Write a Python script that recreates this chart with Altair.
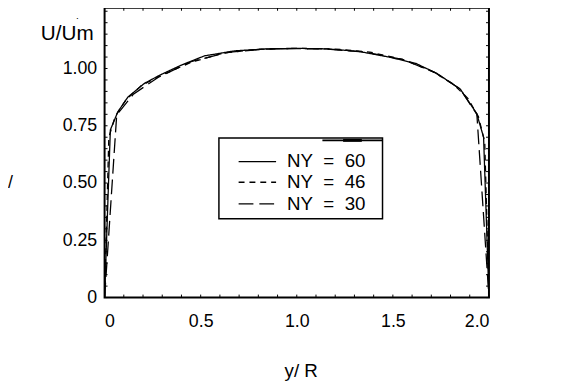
import altair as alt
import pandas as pd

# ---- data ----
ny60_x = [0, 0.030, 0.069, 0.121, 0.207, 0.285, 0.394, 0.519, 0.676, 0.85, 1.0, 1.15, 1.32, 1.48, 1.62, 1.73, 1.85, 1.936, 1.972, 2.0]
ny60_y = [0, 0.732, 0.811, 0.875, 0.935, 0.970, 1.013, 1.055, 1.077, 1.086, 1.088, 1.086, 1.075, 1.050, 1.022, 0.978, 0.911, 0.804, 0.700, 0]

ny46_x = [0, 0.022, 0.055, 0.11, 0.19, 0.30, 0.45, 0.62, 0.80, 1.0, 1.20, 1.38, 1.55, 1.70, 1.81, 1.89, 1.945, 1.978, 2.0]
ny46_y = [0, 0.700, 0.790, 0.862, 0.925, 0.972, 1.027, 1.068, 1.084, 1.088, 1.085, 1.072, 1.040, 0.990, 0.935, 0.870, 0.790, 0.680, 0]

ny30_x = [0, 0.063, 0.15, 0.28, 0.45, 0.65, 0.85, 1.0, 1.15, 1.35, 1.55, 1.72, 1.85, 1.937, 2.0]
ny30_y = [0, 0.797, 0.888, 0.962, 1.030, 1.072, 1.085, 1.087, 1.085, 1.072, 1.040, 0.982, 0.910, 0.800, 0]

series_names = ["NY = 60", "NY = 46", "NY = 30"]
x_major = [0, 0.5, 1.0, 1.5, 2.0]
y_major = [0, 0.25, 0.5, 0.75, 1.0]
x_minor = [0, 0.1, 0.2, 0.3, 0.4, 0.5, 0.6, 0.7, 0.8, 0.9, 1.0, 1.1, 1.2, 1.3, 1.4, 1.5, 1.6, 1.7, 1.8, 1.9, 2.0]
y_minor = [0, 0.05, 0.1, 0.15, 0.2, 0.25, 0.3, 0.35, 0.4, 0.45, 0.5, 0.55, 0.6, 0.65, 0.7, 0.75, 0.8, 0.85, 0.9, 0.95, 1.0, 1.05, 1.1, 1.15, 1.2, 1.25]

rows = []
for name, xs, ys in [(series_names[0], ny60_x, ny60_y), (series_names[1], ny46_x, ny46_y), (series_names[2], ny30_x, ny30_y)]:
    for i, (a, b) in enumerate(zip(xs, ys)):
        rows.append({"series": name, "x": a, "y": b, "order": i})
df = pd.DataFrame(rows)
dfx = pd.DataFrame({"x": x_minor})
dfy = pd.DataFrame({"y": y_minor})

FONT = "Liberation Sans"
W, H = 390, 294
xscale = alt.Scale(domain=[0, 2], nice=False, zero=False)
yscale = alt.Scale(domain=[0, 1.265], nice=False, zero=False)
dash_scale = alt.Scale(domain=series_names, range=[[1, 0], [6, 5], [15, 6]])

xaxis = alt.Axis(values=x_major, tickSize=0, domain=False, grid=False,
                 labelFont=FONT, labelFontSize=18, labelColor="black", labelPadding=15,
                 labelExpr="datum.value == 0 ? '0' : format(datum.value, '.1f')",
                 titleFont=FONT, titleFontSize=19, titleFontWeight="normal",
                 titleColor="black", titlePadding=32, titleX=199)
yaxis = alt.Axis(values=y_major, tickSize=0, domain=False, grid=False,
                 labelFont=FONT, labelFontSize=18, labelColor="black", labelPadding=8,
                 labelExpr="datum.value == 0 ? '0' : format(datum.value, '.2f')")

X = alt.X("x:Q", scale=xscale, axis=xaxis, title="y/ R")
Y = alt.Y("y:Q", scale=yscale, axis=yaxis, title=None)

lines = alt.Chart(df).mark_line(color="black", strokeWidth=1.3, clip=True).encode(
    x=X, y=Y,
    strokeDash=alt.StrokeDash("series:N", scale=dash_scale, legend=None),
    detail="series:N",
    order="order:Q",
)

tb = alt.Chart(dfx).mark_rule(color="black", strokeWidth=1).encode(
    x=X, y=alt.value(H), y2=alt.value(H - 3))
tt = alt.Chart(dfx).mark_rule(color="black", strokeWidth=1).encode(
    x=X, y=alt.value(0), y2=alt.value(3))
tl = alt.Chart(dfy).mark_rule(color="black", strokeWidth=1).encode(
    y=Y, x=alt.value(0), x2=alt.value(3))
tr = alt.Chart(dfy).mark_rule(color="black", strokeWidth=1).encode(
    y=Y, x=alt.value(W), x2=alt.value(W - 3))

frame = alt.Chart(pd.DataFrame({"a": [0]})).mark_rect(
    fill=None, fillOpacity=0, stroke="black", strokeWidth=2
).encode(x=alt.value(0), x2=alt.value(W), y=alt.value(0), y2=alt.value(H))

def txt(s, x, y, size=18, align="left", baseline="middle"):
    return alt.Chart(pd.DataFrame({"s": [s]})).mark_text(
        font=FONT, fontSize=size, color="black", align=align, baseline=baseline
    ).encode(text="s:N", x=alt.value(x), y=alt.value(y))

def rule(x1, x2, y, dash=None, width=1.3):
    kw = dict(color="black", strokeWidth=width)
    if dash:
        kw["strokeDash"] = dash
    return alt.Chart(pd.DataFrame({"a": [0]})).mark_rule(**kw).encode(
        x=alt.value(x1), x2=alt.value(x2), y=alt.value(y))

legend_box = alt.Chart(pd.DataFrame({"a": [0]})).mark_rect(
    fill="white", stroke="black", strokeWidth=1.5
).encode(x=alt.value(116), x2=alt.value(282), y=alt.value(132), y2=alt.value(214))

layers = [lines, tb, tt, tl, tr, frame, legend_box,
          rule(221, 282, 134.5, width=2), rule(242, 261, 134.5, width=3)]
row_y = [156, 177, 199]
dashes = [None, [6, 5], [15, 6]]
NB = "\u00a0"
for name, ry, d in zip(series_names, row_y, dashes):
    layers.append(rule(136, 174, ry, dash=d))
    layers.append(txt(name.replace(" = ", NB * 2 + "=" + NB * 2), 185, ry, size=19))

layers.append(txt("U/Um", -11, 27, size=21, align="right"))
layers.append(txt(".", -29, 11, size=10, baseline="alphabetic"))
layers.append(txt("/", -98, 178))

chart = alt.layer(*layers).properties(
    width=W, height=H,
    autosize=alt.AutoSizeParams(type="none"),
    padding={"left": 98, "top": -3, "right": 67, "bottom": 92},
).configure(background="white").configure_view(strokeWidth=0)

chart.save("out.html", embed_options={"renderer": "svg", "actions": False})
